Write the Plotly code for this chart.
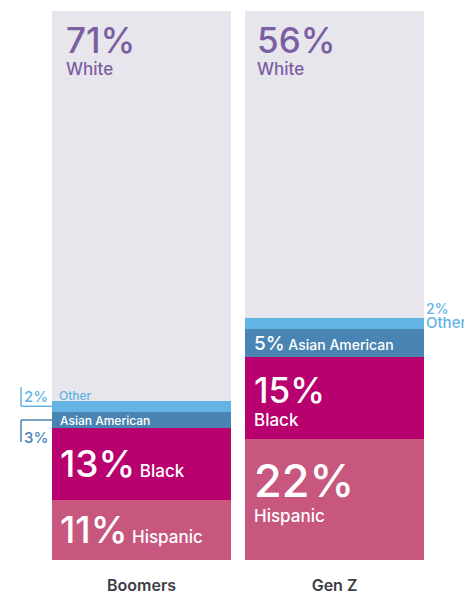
import plotly.graph_objects as go

categories = ["Boomers", "Gen Z"]
hispanic = [11, 22]
black = [13, 15]
asian = [3, 5]
other = [2, 2]
white = [71, 56]

C_WHITE = "#e6e6ec"
C_OTHER = "#63b3e5"
C_ASIAN = "#4a84b2"
C_BLACK = "#b8006f"
C_HISP = "#c7577e"
C_PURPLE = "#7c5fa3"
FONT = "Inter"

BW = 0.9275
ML, MR = 52, 40
PLOT_W = 464 - ML - MR

fig = go.Figure()
for name, vals, col in [("Hispanic", hispanic, C_HISP), ("Black", black, C_BLACK),
                        ("Asian American", asian, C_ASIAN), ("Other", other, C_OTHER),
                        ("White", white, C_WHITE)]:
    fig.add_trace(go.Bar(x=[0, 1], y=vals, name=name, marker=dict(color=col, line=dict(width=0)),
                         width=BW, hoverinfo="skip"))

left = [i - BW / 2 for i in range(2)]
right = [i + BW / 2 for i in range(2)]
ann = []

def A(x, y, text, size, color, xshift=0, yshift=0, xanchor="left", yanchor="middle", weight=500):
    ann.append(dict(x=x, y=y, xref="x", yref="y", text=text, showarrow=False, align="left",
                    xanchor=xanchor, yanchor=yanchor, xshift=xshift, yshift=yshift,
                    font=dict(family=FONT, size=size, color=color, weight=weight)))

def sp(t, s):
    return f"<span style='font-size:{s}px'>{t}</span>"

# Boomers
b_h = hispanic[0]; b_b = b_h + black[0]; b_a = b_b + asian[0]; b_o = b_a + other[0]
A(left[0], 100, sp(f"{white[0]}%", 35) + "<br>" + sp("White", 17), 17, C_PURPLE, xshift=12, yanchor="top", yshift=-6)
A(left[0], b_o, "Other", 12, C_OTHER, xshift=5, yshift=5)
A(left[0], (b_a + b_b) / 2, "Asian American", 12, "white", xshift=6, yshift=0)
A(left[0], (b_h + b_b) / 2, sp(f"{black[0]}%", 37) + " " + sp("Black", 17), 17, "white", xshift=6, yshift=0)
A(left[0], b_h / 2, sp(f"{hispanic[0]}%", 37) + " " + sp("Hispanic", 17), 17, "white", xshift=6, yshift=0)
A(left[0], (b_a + b_o) / 2, f"{other[0]}%", 15, C_OTHER, xshift=-30, yshift=10)
A(left[0], (b_b + b_a) / 2, f"{asian[0]}%", 15, C_ASIAN, xshift=-30, yshift=-17)

# Gen Z
g_h = hispanic[1]; g_b = g_h + black[1]; g_a = g_b + asian[1]; g_o = g_a + other[1]
A(left[1], 100, sp(f"{white[1]}%", 35) + "<br>" + sp("White", 17), 17, C_PURPLE, xshift=10, yanchor="top", yshift=-6)
A(right[1], (g_a + g_o) / 2, sp(f"{other[1]}%", 14) + "<br>" + sp("Other", 15), 11, C_OTHER, xshift=0, yshift=8)
A(left[1], (g_a + g_b) / 2, sp(f"{asian[1]}%", 19) + " " + sp("Asian American", 14), 14, "white", xshift=7, yshift=0)
A(left[1], g_b, sp(f"{black[1]}%", 35) + "<br>" + sp("Black", 17), 18, "white", xshift=7, yanchor="top", yshift=-10)
A(left[1], g_h, sp(f"{hispanic[1]}%", 45) + "<br>" + sp("Hispanic", 17), 19, "white", xshift=7, yanchor="top", yshift=-12)

shapes = []
def px2paper(dx):
    return dx / PLOT_W

def L(x0, x1, y0, y1, color):
    shapes.append(dict(type="line", xref="paper", yref="y", x0=x0, x1=x1, y0=y0, y1=y1,
                       line=dict(color=color, width=1.5), layer="above"))

mid_o = (b_a + b_o) / 2
mid_a = (b_b + b_a) / 2
UNIT = 549 / 100.0  # pixels per percentage point
xb = px2paper(-31)
L(xb, xb, mid_o, mid_o + 19 / UNIT, C_OTHER)
L(xb, 0, mid_o, mid_o, C_OTHER)
L(xb, xb, mid_a, mid_a - 22 / UNIT, C_ASIAN)
L(xb, 0, mid_a, mid_a, C_ASIAN)

fig.update_layout(
    barmode="stack", showlegend=False, width=464, height=597,
    margin=dict(l=ML, r=MR, t=11, b=37, autoexpand=False),
    paper_bgcolor="white", plot_bgcolor="white",
    annotations=ann, shapes=shapes,
    xaxis=dict(range=[-BW / 2, 1 + BW / 2], tickvals=[0, 1], ticktext=categories,
               showgrid=False, zeroline=False, showline=False, ticks="", automargin=False,
               tickfont=dict(family=FONT, size=16, color="#3d3d45", weight=600),
               ticklabelstandoff=14),
    yaxis=dict(range=[0, 100], visible=False, showgrid=False, automargin=False),
)
fig.write_html("out.html")
